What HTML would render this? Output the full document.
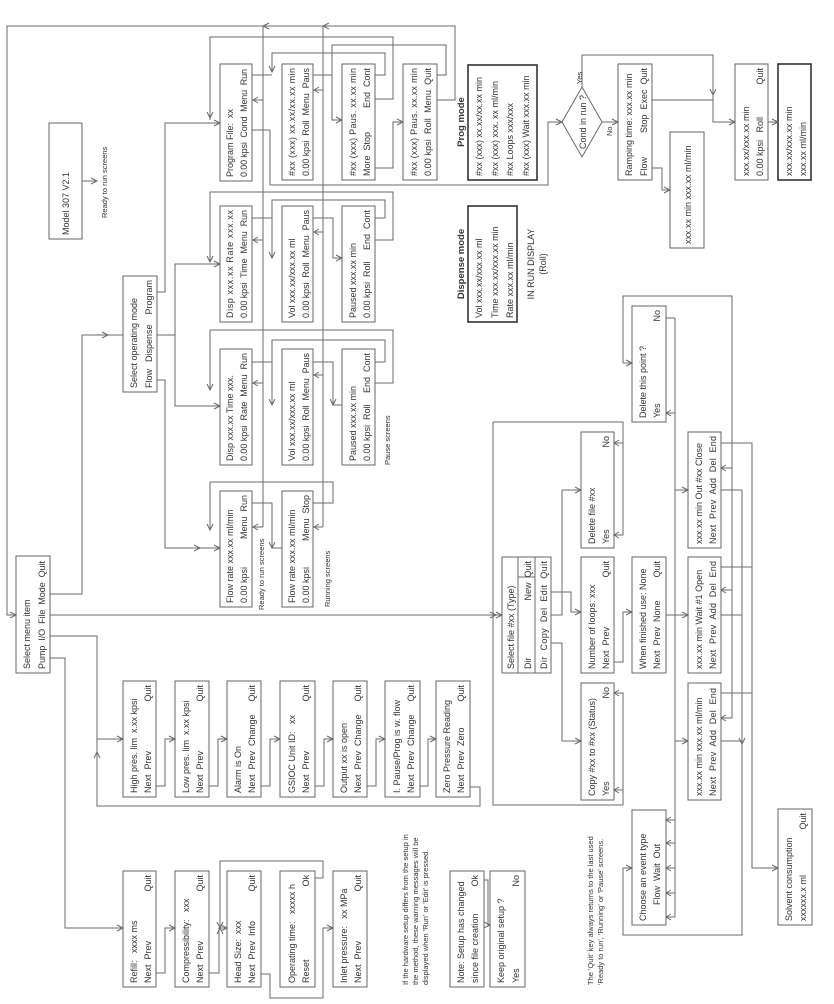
<!DOCTYPE html>
<html><head><meta charset="utf-8"><style>
html,body{margin:0;padding:0;background:#fff}
svg{display:block}
text{font-family:"Liberation Sans Narrow","Liberation Sans",sans-serif;font-size:9px;fill:#333;white-space:pre}
.e{text-anchor:end}.m{text-anchor:middle}.s{font-size:7.5px}.b{font-weight:bold;font-size:9.5px}
rect{fill:none;stroke:#666;stroke-width:1}
.k{stroke:#333;stroke-width:1.6}
path,polygon{fill:none;stroke:#6a6a6a;stroke-width:1}
</style></head><body>
<svg width="834" height="1004" viewBox="0 0 834 1004" xmlns="http://www.w3.org/2000/svg">
<!-- boxes -->
<rect x="49" y="123" width="33" height="116"/>
<rect x="123" y="276" width="34" height="116"/>
<rect x="220" y="64" width="32" height="117"/>
<rect x="220" y="206" width="32" height="116"/>
<rect x="220" y="349" width="32" height="116"/>
<rect x="220" y="491" width="32" height="116"/>
<rect x="282" y="64" width="31" height="116"/>
<rect x="282" y="206" width="31" height="116"/>
<rect x="282" y="349" width="31" height="116"/>
<rect x="282" y="491" width="31" height="116"/>
<rect x="342" y="64" width="33" height="116"/>
<rect x="342" y="206" width="33" height="116"/>
<rect x="342" y="349" width="33" height="116"/>
<rect x="403" y="64" width="34" height="116"/>
<rect class="k" x="468" y="65" width="69" height="115"/>
<rect class="k" x="468" y="206" width="49" height="116"/>
<rect x="618" y="64" width="34" height="116"/>
<rect x="670" y="132" width="34" height="116"/>
<rect x="735" y="64" width="33" height="116"/>
<rect class="k" x="778" y="64" width="33" height="116"/>
<rect x="16" y="556" width="34" height="117"/>
<rect x="123" y="681" width="33" height="116"/>
<rect x="175" y="681" width="34" height="116"/>
<rect x="227" y="681" width="34" height="116"/>
<rect x="280" y="681" width="35" height="116"/>
<rect x="333" y="681" width="34" height="116"/>
<rect x="385" y="681" width="35" height="116"/>
<rect x="436" y="681" width="34" height="116"/>
<rect x="123" y="871" width="33" height="116"/>
<rect x="175" y="871" width="34" height="116"/>
<rect x="227" y="871" width="34" height="116"/>
<rect x="280" y="871" width="35" height="116"/>
<rect x="333" y="871" width="34" height="116"/>
<rect x="450" y="871" width="34" height="116"/>
<rect x="490" y="871" width="35" height="116"/>
<rect x="502" y="557" width="49" height="116"/>
<path d="M518,557V673M535,557V673M518,577H535"/>
<rect x="581" y="683" width="33" height="117"/>
<rect x="581" y="557" width="33" height="116"/>
<rect x="581" y="432" width="33" height="116"/>
<rect x="632" y="557" width="34" height="116"/>
<rect x="632" y="306" width="34" height="116"/>
<rect x="632" y="810" width="34" height="115"/>
<rect x="688" y="683" width="33" height="117"/>
<rect x="688" y="557" width="33" height="116"/>
<rect x="688" y="432" width="33" height="116"/>
<rect x="778" y="809" width="34" height="116"/>
<polygon points="562,122 582,87 602,122 582,157"/>

<!-- connectors -->
<path d="M82,181H97"/>
<path d="M16,615H7V26H455V100H437"/>
<path d="M263,26V527M323,26V527"/>
<path d="M269,23L263,26L269,29M329,23L323,26L329,29"/>
<path d="M263,100H252M263,240H252M263,383H252M263,527H252M323,90H313M323,232H313M323,375H313M323,527H313"/>
<path d="M258,97L253,100L258,103M258,237L253,240L258,243M258,380L253,383L258,386M258,524L253,527L258,530M319,87L314,90L319,93M319,229L314,232L319,235M319,372L314,375L319,378M319,524L314,527L319,530"/>
<path d="M437,75H446V45H332V120H342"/>
<path d="M375,99H393V37H210V120"/>
<path d="M375,75H385V53H272V72"/>
<path d="M252,75H272M313,75H332"/>
<path d="M375,168H393V122H403"/>
<path d="M252,130H270V185H548V122H562"/>
<path d="M582,87V55H713V122H735M652,100H713M602,122H618M652,168H662V190H670M768,122H778"/>
<path d="M157,292H165V123H220M157,335H175V264H220M175,335V406H220M157,380H165V548H220"/>
<path d="M50,594H82V335H123"/>
<path d="M375,240H393V192H210V262M375,218H385V200H272V258M252,218H272M313,218H333V258H342"/>
<path d="M375,383H393V330H210V390M375,362H385V340H272V405M252,362H272M313,362H333V405H342"/>
<path d="M252,503H272V548H282M313,503H333V482H210V530"/>
<path d="M50,636H97V806H480V787H470M97,739H123M50,658H65V928H123M50,615H502"/>
<path d="M156,786H165V739H175M209,786H218V739H227M261,786H270V739H280M315,786H324V739H333M367,786H376V739H385M420,786H428V739H436"/>
<path d="M156,973H165V928H175M209,973H219V928H227M315,878H323V861H220V928M261,974H270V998H323V928H333M484,880H488V925H490"/>
<path d="M493,422V805H623M493,422H623V443H614M614,535H623V443M614,693H623V805M614,790H623"/>
<path d="M551,615H562V490H581M551,643H562V741H581M551,592H571V612H581M614,662H623V612H632M666,615H688"/>
<path d="M675,318V917M666,318H675M675,413H666M675,490H688M675,741H688M666,820H675M666,843H675M666,868H675M666,893H675M666,917H675"/>
<path d="M623,363V296H732V718H721M623,363H632"/>
<path d="M721,443H752V868H778M721,567H752M721,693H752"/>
<path d="M721,490H742V935H623V868H632M721,615H742M721,741H742"/>
<path d="M732,468H721M732,590H721"/>
<!-- arrowheads -->
<path d="M91,178L97,181L91,184
M10,612L16,615L10,618
M336,117L342,120L336,123
M207,112L210,118L213,112
M269,66L272,72L275,66
M397,119L403,122L397,125
M556,119L562,122L556,125
M710,89L713,95L716,89
M729,119L735,122L729,125
M612,119L618,122L612,125
M664,187L670,190L664,193
M772,119L778,122L772,125
M214,120L220,123L214,126
M214,261L220,264L214,267
M214,403L220,406L214,409
M214,545L220,548L214,551
M194,545L200,548L194,551
M102,332L108,335L102,338
M207,256L210,262L213,256
M269,252L272,258L275,252
M336,255L342,258L336,261
M207,384L210,390L213,384
M269,399L272,405L275,399
M330,399L333,405L336,399
M269,542L272,548L275,542
M207,524L210,530L213,524
M117,736L123,739L117,742
M94,758L97,752L100,758
M117,925L123,928L117,931
M496,612L502,615L496,618
M490,612L496,615M490,618L496,615
M169,736L175,739L169,742
M221,736L227,739L221,742
M274,736L280,739L274,742
M327,736L333,739L327,742
M379,736L385,739L379,742
M430,736L436,739L430,742
M169,925L175,928L169,931
M221,925L227,928L221,931
M217,922L220,928L223,922M217,934L220,928L223,934
M327,925L333,928L327,931
M484,922L490,925L484,928
M619,440L614,443L619,446M619,532L614,535L619,538M619,690L614,693L619,696M619,787L614,790L619,793
M575,487L581,490L575,493
M575,738L581,741L575,744
M575,609L581,612L575,615
M626,609L632,612L626,615
M682,612L688,615L682,618
M671,410L666,413L671,416
M682,487L688,490L682,493
M682,738L688,741L682,744
M671,817L666,820L671,823M671,840L666,843L671,846M671,865L666,868L671,871M671,890L666,893L671,896M671,914L666,917L671,920
M626,360L632,363L626,366
M772,865L778,868L772,871
M626,865L632,868L626,871
M726,465L721,468L726,471M726,587L721,590L726,593M726,715L721,718L726,721
M739,738L742,744L745,738"/>

<!-- text -->
<text transform="translate(69,235) rotate(-90)">Model 307 V2.1</text>
<text class="s" transform="translate(107,218) rotate(-90)">Ready to run screens</text>
<text transform="translate(137,388) rotate(-90)">Select operating mode</text>
<text transform="translate(152,388) rotate(-90)">Flow</text>
<text transform="translate(152,362) rotate(-90)">Dispense</text>
<text class="e" transform="translate(152,280) rotate(-90)">Program</text>

<text transform="translate(233,177) rotate(-90)">Program File:  xx</text>
<text transform="translate(247,177) rotate(-90)" textLength="108" lengthAdjust="spacing">0.00 kpsi  Cond  Menu  Run</text>
<text transform="translate(233,318) rotate(-90)" textLength="108" lengthAdjust="spacing">Disp xxx.xx Rate xxx.xx</text>
<text transform="translate(247,318) rotate(-90)" textLength="108" lengthAdjust="spacing">0.00 kpsi  Time  Menu  Run</text>
<text transform="translate(233,461) rotate(-90)">Disp xxx.xx Time xxx.</text>
<text transform="translate(247,461) rotate(-90)" textLength="108" lengthAdjust="spacing">0.00 kpsi  Rate  Menu  Run</text>
<text transform="translate(233,603) rotate(-90)">Flow rate xxx.xx ml/min</text>
<text transform="translate(247,603) rotate(-90)">0.00 kpsi</text>
<text class="e" transform="translate(247,495) rotate(-90)">Menu  Run</text>
<text class="s" transform="translate(264,610) rotate(-90)">Ready to run screens</text>

<text transform="translate(295,176) rotate(-90)" textLength="108" lengthAdjust="spacing">#xx (xxx) xx.xx/xx.xx min</text>
<text transform="translate(309,176) rotate(-90)" textLength="108" lengthAdjust="spacing">0.00 kpsi  Roll  Menu  Paus</text>
<text transform="translate(295,318) rotate(-90)">Vol xxx.xx/xxx.xx ml</text>
<text transform="translate(309,318) rotate(-90)" textLength="108" lengthAdjust="spacing">0.00 kpsi  Roll  Menu  Paus</text>
<text transform="translate(295,461) rotate(-90)">Vol xxx.xx/xxx.xx ml</text>
<text transform="translate(309,461) rotate(-90)" textLength="108" lengthAdjust="spacing">0.00 kpsi  Roll  Menu  Paus</text>
<text transform="translate(295,603) rotate(-90)">Flow rate xxx.xx ml/min</text>
<text transform="translate(309,603) rotate(-90)">0.00 kpsi</text>
<text class="e" transform="translate(309,495) rotate(-90)">Menu  Stop</text>
<text class="s" transform="translate(330,607) rotate(-90)">Running screens</text>

<text transform="translate(356,176) rotate(-90)" textLength="108" lengthAdjust="spacing">#xx (xxx) Paus. xx.xx min</text>
<text transform="translate(370,176) rotate(-90)">More  Stop</text>
<text class="e" transform="translate(370,68) rotate(-90)">End  Cont</text>
<text transform="translate(356,318) rotate(-90)">Paused xxx.xx min</text>
<text transform="translate(370,318) rotate(-90)">0.00 kpsi  Roll</text>
<text class="e" transform="translate(370,210) rotate(-90)">End  Cont</text>
<text transform="translate(356,461) rotate(-90)">Paused xxx.xx min</text>
<text transform="translate(370,461) rotate(-90)">0.00 kpsi  Roll</text>
<text class="e" transform="translate(370,353) rotate(-90)">End  Cont</text>
<text class="s" transform="translate(390,465) rotate(-90)">Pause screens</text>

<text transform="translate(417,176) rotate(-90)" textLength="108" lengthAdjust="spacing">#xx (xxx) Paus. xx.xx min</text>
<text transform="translate(431,176) rotate(-90)" textLength="108" lengthAdjust="spacing">0.00 kpsi  Roll  Menu  Quit</text>

<text class="b m" transform="translate(464,122) rotate(-90)">Prog mode</text>
<text transform="translate(482,176) rotate(-90)">#xx (xxx) xx.xx/xx.xx min</text>
<text transform="translate(498,176) rotate(-90)">#xx (xxx) xxx. xx ml/min</text>
<text transform="translate(513,176) rotate(-90)">#xx Loops xxx/xxx</text>
<text transform="translate(529,176) rotate(-90)">#xx (xxx) Wait xxx.xx min</text>
<text class="b m" transform="translate(464,264) rotate(-90)">Dispense mode</text>
<text transform="translate(482,318) rotate(-90)">Vol xxx.xx/xxx.xx ml</text>
<text transform="translate(498,318) rotate(-90)">Time xxx.xx/xxx.xx min</text>
<text transform="translate(513,318) rotate(-90)">Rate xxx.xx ml/min</text>
<text class="m" transform="translate(534,264) rotate(-90)">IN RUN DISPLAY</text>
<text class="m" transform="translate(546,264) rotate(-90)">(Roll)</text>

<text class="m" transform="translate(586,122) rotate(-90)">Cond in run ?</text>
<text class="s" transform="translate(582,84) rotate(-90)">Yes</text>
<text class="s" transform="translate(612,136) rotate(-90)">No</text>
<text transform="translate(632,176) rotate(-90)">Ramping time: xxx.xx min</text>
<text transform="translate(647,176) rotate(-90)">Flow</text>
<text class="e" transform="translate(647,68) rotate(-90)">Stop  Exec  Quit</text>
<text transform="translate(691,244) rotate(-90)">xxx.xx min xxx.xx ml/min</text>
<text transform="translate(749,176) rotate(-90)">xxx.xx/xxx.xx min</text>
<text transform="translate(763,176) rotate(-90)">0.00 kpsi   Roll</text>
<text class="e" transform="translate(763,68) rotate(-90)">Quit</text>
<text transform="translate(792,176) rotate(-90)">xxx.xx/xxx.xx min</text>
<text transform="translate(806,176) rotate(-90)">xxx.xx ml/min</text>

<text transform="translate(30,669) rotate(-90)">Select menu item</text>
<text transform="translate(45,669) rotate(-90)" textLength="108" lengthAdjust="spacing">Pump  I/O  File  Mode  Quit</text>

<text transform="translate(137,793) rotate(-90)">High pres. lim  x.xx kpsi</text>
<text transform="translate(151,793) rotate(-90)">Next  Prev</text>
<text class="e" transform="translate(151,685) rotate(-90)">Quit</text>
<text transform="translate(189,793) rotate(-90)">Low pres. lim  x.xx kpsi</text>
<text transform="translate(203,793) rotate(-90)">Next  Prev</text>
<text class="e" transform="translate(203,685) rotate(-90)">Quit</text>
<text transform="translate(241,793) rotate(-90)">Alarm is On</text>
<text transform="translate(255,793) rotate(-90)">Next  Prev  Change</text>
<text class="e" transform="translate(255,685) rotate(-90)">Quit</text>
<text transform="translate(295,793) rotate(-90)">GSIOC Unit ID:   xx</text>
<text transform="translate(309,793) rotate(-90)">Next  Prev</text>
<text class="e" transform="translate(309,685) rotate(-90)">Quit</text>
<text transform="translate(347,793) rotate(-90)">Output xx is open</text>
<text transform="translate(361,793) rotate(-90)">Next  Prev  Change</text>
<text class="e" transform="translate(361,685) rotate(-90)">Quit</text>
<text transform="translate(400,793) rotate(-90)">I. Pause/Prog is w. flow</text>
<text transform="translate(414,793) rotate(-90)">Next  Prev  Change</text>
<text class="e" transform="translate(414,685) rotate(-90)">Quit</text>
<text transform="translate(450,793) rotate(-90)">Zero Pressure Reading</text>
<text transform="translate(464,793) rotate(-90)">Next  Prev  Zero</text>
<text class="e" transform="translate(464,685) rotate(-90)">Quit</text>

<text transform="translate(137,983) rotate(-90)">Refill:   xxxx ms</text>
<text transform="translate(151,983) rotate(-90)">Next  Prev</text>
<text class="e" transform="translate(151,875) rotate(-90)">Quit</text>
<text transform="translate(189,983) rotate(-90)">Compressibility:   xxx</text>
<text transform="translate(203,983) rotate(-90)">Next  Prev</text>
<text class="e" transform="translate(203,875) rotate(-90)">Quit</text>
<text transform="translate(241,983) rotate(-90)">Head Size:  xxx</text>
<text transform="translate(255,983) rotate(-90)">Next  Prev  Info</text>
<text class="e" transform="translate(255,875) rotate(-90)">Quit</text>
<text transform="translate(295,983) rotate(-90)">Operating time:   xxxxx h</text>
<text transform="translate(309,983) rotate(-90)">Reset</text>
<text class="e" transform="translate(309,875) rotate(-90)">Ok</text>
<text transform="translate(347,983) rotate(-90)">Inlet pressure:   xx MPa</text>
<text transform="translate(361,983) rotate(-90)">Next  Prev</text>
<text class="e" transform="translate(361,875) rotate(-90)">Quit</text>

<text class="s" transform="translate(408,985) rotate(-90)">If the hardware setup differs from the setup in</text>
<text class="s" transform="translate(418,985) rotate(-90)">the method, these warning messages will be</text>
<text class="s" transform="translate(428,985) rotate(-90)">displayed when 'Run' or 'Edit' is pressed.</text>

<text transform="translate(464,983) rotate(-90)">Note: Setup has changed</text>
<text transform="translate(478,983) rotate(-90)">since file creation</text>
<text class="e" transform="translate(478,875) rotate(-90)">Ok</text>
<text transform="translate(504,983) rotate(-90)">Keep original setup ?</text>
<text transform="translate(519,983) rotate(-90)">Yes</text>
<text class="e" transform="translate(519,875) rotate(-90)">No</text>

<text transform="translate(514,669) rotate(-90)">Select file #xx (Type)</text>
<text transform="translate(531,669) rotate(-90)">Dir</text>
<text class="e" transform="translate(531,561) rotate(-90)">New  Quit</text>
<text transform="translate(547,669) rotate(-90)" textLength="108" lengthAdjust="spacing">Dir  Copy  Del  Edit  Quit</text>

<text transform="translate(595,796) rotate(-90)">Copy #xx to #xx (Status)</text>
<text transform="translate(609,796) rotate(-90)">Yes</text>
<text class="e" transform="translate(609,687) rotate(-90)">No</text>
<text transform="translate(595,669) rotate(-90)">Number of loops: xxx</text>
<text transform="translate(609,669) rotate(-90)">Next  Prev</text>
<text class="e" transform="translate(609,561) rotate(-90)">Quit</text>
<text transform="translate(595,544) rotate(-90)">Delete file #xx</text>
<text transform="translate(609,544) rotate(-90)">Yes</text>
<text class="e" transform="translate(609,436) rotate(-90)">No</text>

<text transform="translate(646,669) rotate(-90)">When finished use: None</text>
<text transform="translate(660,669) rotate(-90)">Next  Prev  None</text>
<text class="e" transform="translate(660,561) rotate(-90)">Quit</text>
<text transform="translate(646,418) rotate(-90)">Delete this point ?</text>
<text transform="translate(660,418) rotate(-90)">Yes</text>
<text class="e" transform="translate(660,310) rotate(-90)">No</text>
<text transform="translate(646,921) rotate(-90)">Choose an event type</text>
<text transform="translate(660,905) rotate(-90)">Flow  Wait  Out</text>

<text transform="translate(702,796) rotate(-90)">xxx.xx min xxx.xx ml/min</text>
<text transform="translate(716,796) rotate(-90)" textLength="108" lengthAdjust="spacing">Next  Prev  Add  Del  End</text>
<text transform="translate(702,669) rotate(-90)">xxx.xx min Wait #1 Open</text>
<text transform="translate(716,669) rotate(-90)" textLength="108" lengthAdjust="spacing">Next  Prev  Add  Del  End</text>
<text transform="translate(702,544) rotate(-90)">xxx.xx min Out #xx Close</text>
<text transform="translate(716,544) rotate(-90)" textLength="108" lengthAdjust="spacing">Next  Prev  Add  Del  End</text>

<text class="s" transform="translate(593,985) rotate(-90)">The 'Quit' key always returns to the last used</text>
<text class="s" transform="translate(603,985) rotate(-90)">'Ready to run', 'Running' or 'Pause' screens.</text>

<text transform="translate(792,921) rotate(-90)">Solvent consumption</text>
<text transform="translate(806,921) rotate(-90)">xxxxxx.x ml</text>
<text class="e" transform="translate(806,813) rotate(-90)">Quit</text>
</svg>
</body></html>
